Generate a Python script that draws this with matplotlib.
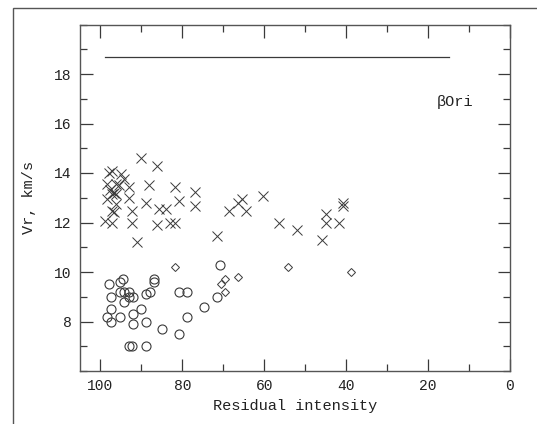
import matplotlib
matplotlib.use("Agg")
import matplotlib.pyplot as plt
from matplotlib.patches import Rectangle
from matplotlib.ticker import MultipleLocator

# Crosses (x = residual intensity, y = Vr)
cross_x = [90.2, 86.1, 98.0, 97.2, 95.1, 94.3, 98.4, 96.3, 95.5, 93.1, 88.1, 81.9, 76.8,
           97.6, 96.7, 97.2, 96.3, 98.4, 93.1, 96.3, 89.0, 80.9, 76.8, 97.2, 96.7, 92.3,
           85.8, 84.1, 98.8, 97.2, 92.3, 86.1, 83.1, 81.9, 91.2, 71.5, 68.5, 66.4, 65.4,
           64.4, 60.3, 56.3, 52.0, 45.9, 44.9, 44.9, 41.8, 40.8, 40.7]
cross_y = [14.6, 14.3, 14.0, 14.1, 13.95, 13.75, 13.55, 13.55, 13.5, 13.45, 13.5, 13.45, 13.25,
           13.3, 13.2, 13.15, 13.15, 12.95, 12.97, 12.75, 12.8, 12.85, 12.65, 12.48, 12.42, 12.48,
           12.55, 12.55, 12.08, 12.0, 12.0, 11.88, 12.0, 12.0, 11.2, 11.45, 12.45, 12.8, 12.95,
           12.45, 13.08, 12.0, 11.68, 11.3, 12.33, 11.97, 12.0, 12.8, 12.68]

# Circles
circ_x = [98.0, 95.3, 94.5, 95.3, 94.3, 93.1, 97.4, 93.1, 92.0, 94.3, 89.0, 88.0, 87.0, 87.0,
          80.9, 78.8, 97.4, 98.4, 95.3, 92.0, 90.2, 97.4, 92.0, 89.0, 85.0, 80.8, 78.8, 74.8,
          71.5, 70.8, 93.1, 92.3, 89.0]
circ_y = [9.5, 9.6, 9.7, 9.2, 9.2, 9.2, 9.0, 9.0, 9.0, 8.8, 9.1, 9.2, 9.7, 9.6,
          9.2, 9.2, 8.5, 8.2, 8.2, 8.3, 8.5, 8.0, 7.9, 8.0, 7.7, 7.5, 8.2, 8.6,
          9.0, 10.3, 7.0, 7.0, 7.0]

# Diamonds
diam_x = [81.9, 69.5, 70.6, 69.5, 66.4, 54.2, 38.8]
diam_y = [10.2, 9.7, 9.5, 9.2, 9.8, 10.2, 10.0]

# Horizontal reference line
hline_x = [99, 15]
hline_y = [18.7, 18.7]

star_label = "βOri"

plt.rcParams['font.family'] = ['Liberation Mono', 'DejaVu Sans Mono']

fig = plt.figure(figsize=(5.37, 4.24), dpi=100)
ax = fig.add_axes([80/537, 53/424, 430/537, 346.5/424])

ink = '#3a3a3a'
ax.plot(cross_x, cross_y, linestyle='none', marker='x', markersize=6.5,
        markeredgewidth=0.7, color=ink)
ax.plot(circ_x, circ_y, linestyle='none', marker='o', markersize=6.5,
        markeredgewidth=0.8, markerfacecolor='none', color=ink)
ax.plot(diam_x, diam_y, linestyle='none', marker='D', markersize=4.5,
        markeredgewidth=0.7, markerfacecolor='none', color=ink)
ax.plot(hline_x, hline_y, color=ink, linewidth=0.9)

ax.text(13.4, 16.85, star_label, ha='center', va='center', fontsize=11, color='#222222')

ax.set_xlim(105, 0)
ax.set_ylim(6, 20)
ax.xaxis.set_major_locator(MultipleLocator(20))
ax.xaxis.set_minor_locator(MultipleLocator(10))
ax.yaxis.set_minor_locator(MultipleLocator(1))
ax.set_yticks([8, 10, 12, 14, 16, 18])
ax.tick_params(which='both', direction='in', top=True, right=True, color=ink,
               labelsize=10.5, width=0.9, labelcolor='#222222')
ax.tick_params(which='major', length=9, pad=6)
ax.tick_params(which='minor', length=5)
for s in ax.spines.values():
    s.set_color('#555555')
    s.set_linewidth(1.0)

ax.set_xlabel('Residual intensity', fontsize=11, labelpad=4, color='#222222')
ax.set_ylabel('Vr, km/s', fontsize=11, labelpad=13, color='#222222')

# outer frame
fig.patches.append(Rectangle((13/537, -0.1), 1.2, (424 - 8)/424 + 0.1,
                             transform=fig.transFigure, fill=False,
                             edgecolor='#555555', linewidth=1.0))

fig.savefig('out.png', dpi=100)
